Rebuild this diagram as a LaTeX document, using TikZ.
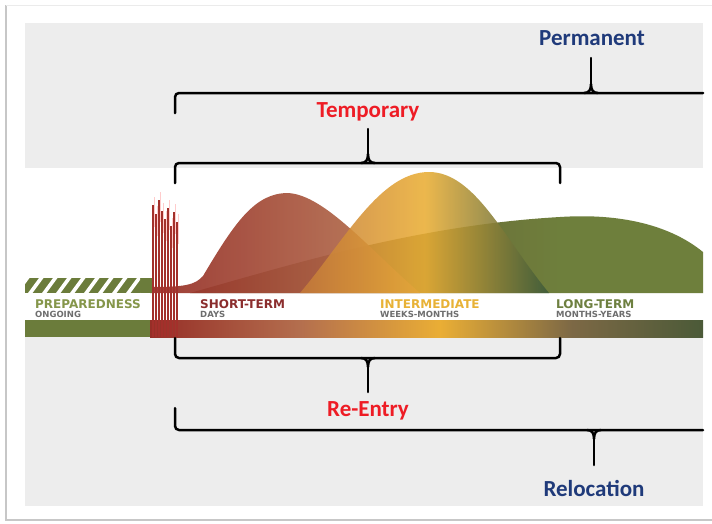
\documentclass[tikz,border=0pt]{standalone}
\usepackage{fontspec}
\setmainfont{Carlito}
\newfontfamily\lblfont{DejaVu Sans}
\definecolor{panel}{HTML}{EDEDED}
\definecolor{dgreen}{HTML}{6B7C3B}
\definecolor{lgreen}{HTML}{6E7F3C}
\definecolor{gdark}{HTML}{4B5A38}
\definecolor{hred}{HTML}{962E27}
\definecolor{htan}{HTML}{B97A55}
\definecolor{yel}{HTML}{EAAE35}
\definecolor{yorange}{HTML}{C47A3A}
\definecolor{ydark}{HTML}{3C5A3A}
\definecolor{navy}{HTML}{1F3A7A}
\definecolor{redtxt}{HTML}{EE1C25}
\definecolor{spikered}{HTML}{A3302B}
\definecolor{prepcol}{HTML}{85964A}
\definecolor{shortcol}{HTML}{8B2D2D}
\definecolor{intcol}{HTML}{E8B236}
\definecolor{longcol}{HTML}{6E8040}
\definecolor{subcol}{HTML}{6E6E6E}
\tikzset{
  brk/.style={line width=2.5pt, line cap=round, line join=round, rounded corners=4pt},
  tipline/.style={line width=2.5pt, line cap=round},
  biglbl/.style={font=\bfseries\fontsize{23}{25}\selectfont, inner sep=0pt},
  phase/.style={anchor=base west, inner sep=0pt, font=\lblfont\bfseries\fontsize{12}{13}\selectfont},
  sub/.style={anchor=base west, inner sep=0pt, text=subcol, font=\lblfont\bfseries\fontsize{8.5}{9}\selectfont},
}
\begin{document}
\begin{tikzpicture}[x=1pt,y=-1pt]
\useasboundingbox (0,0) rectangle (712,523);
\fill[white] (0,0) rectangle (712,523);
% card shadow
\draw[black!22, line width=2pt] (6,5) -- (6,520) -- (712,520);
\draw[black!8, line width=1pt] (6,5) -- (712,5);
% panel
\fill[panel] (25,23) rectangle (703,506);
\fill[white] (25,168) rectangle (703,337);

% long-term hump
\begin{scope}
\clip (190,293) .. controls (300,262) and (420,225) .. (560,217) .. controls (620,213) and (670,225) .. (703,252) -- (703,293) -- cycle;
\shade[left color=gdark!60!hred, right color=lgreen] (190,200) rectangle (560,300);
\fill[lgreen] (559.5,200) rectangle (704,300);
\end{scope}
% short-term hump
\begin{scope}
\clip (150,293) -- (150,287) .. controls (185,287) and (195,285) .. (203,276) .. controls (235,222) and (255,193) .. (288,193) .. controls (325,195) and (370,250) .. (420,293) -- cycle;
\shade[left color=hred, right color=htan, fill opacity=0.93] (150,180) rectangle (420,300);
\end{scope}
% intermediate hump
\begin{scope}
\clip (300,293) .. controls (345,240) and (380,172) .. (429,172) .. controls (475,172) and (505,240) .. (549,293) -- cycle;
\shade[left color=yorange, right color=ydark, middle color=yel, fill opacity=0.88] (300,160) rectangle (549,300);
\end{scope}

% preparedness hatched bar
\fill[dgreen] (25,278) rectangle (152,293);
\begin{scope}
\clip (25,278) rectangle (140,293);
\foreach \x in {14,28,...,140} {
  \fill[white] (\x,293) -- (\x+4.5,293) -- (\x+15.5,278) -- (\x+11,278) -- cycle;
}
\end{scope}

% bottom bar
\fill[dgreen] (25,320) rectangle (151,337);
\shade[left color=hred, right color=htan!85!hred] (150,320) rectangle (300.5,337);
\shade[left color=htan!85!hred, right color=yel] (300,320) rectangle (440.5,337);
\shade[left color=yel, right color=gdark, middle color=gdark!55!htan] (440,320) rectangle (703,337);

% spikes
\foreach \x/\t in {153/205, 156/214, 159/200, 162/211, 165/219, 168/208, 171/226, 174/212, 177/222} {
  \draw[spikered, line width=2pt] (\x,\t) -- (\x,337);
  \draw[red!20, line width=0.8pt] (\x+1.2,\t-8) -- (\x+1.2,\t+22);
}

% phase labels
\node[phase, text=prepcol] (prep) at (35,308) {PREPAREDNESS};
\node[sub] (prepsub) at (35,317.5) {ONGOING};
\node[phase, text=shortcol] (short) at (200,308) {SHORT-TERM};
\node[sub] (shortsub) at (200,317.5) {DAYS};
\node[phase, text=intcol] (inter) at (380,308) {INTERMEDIATE};
\node[sub] (intersub) at (380,317.5) {WEEKS-MONTHS};
\node[phase, text=longcol] (long) at (556,308) {LONG-TERM};
\node[sub] (longsub) at (556,317.5) {MONTHS-YEARS};

% bracket labels
\node[biglbl, text=navy] (perm) at (592,38) {Permanent};
\node[biglbl, text=redtxt] (temp) at (368,112) {Temporary};
\node[biglbl, text=redtxt] (reent) at (368,411) {Re-Entry};
\node[biglbl, text=navy] (reloc) at (594,488) {Relocation};

% Permanent bracket
\coordinate (pt) at (591,58);
\draw[brk] (175,113) -- (175,93) -- (703,93);
\draw[tipline] (pt) -- (591,85);
\draw[line width=2.5pt] (584,93) .. controls (589,93) and (591,90) .. (591,84) .. controls (591,90) and (593,93) .. (598,93);
% Temporary bracket
\coordinate (tt) at (368,129);
\draw[brk] (175,183) -- (175,163) -- (560,163) -- (560,183);
\draw[tipline] (tt) -- (368,155);
\draw[line width=2.5pt] (361,163) .. controls (366,163) and (368,160) .. (368,154) .. controls (368,160) and (370,163) .. (375,163);
% Re-Entry bracket
\coordinate (rt) at (368,392);
\draw[brk] (175,338) -- (175,358) -- (560,358) -- (560,338);
\draw[tipline] (rt) -- (368,366);
\draw[line width=2.5pt] (361,358) .. controls (366,358) and (368,361) .. (368,367) .. controls (368,361) and (370,358) .. (375,358);
% Relocation bracket
\coordinate (lt) at (594,465);
\draw[brk] (175,408) -- (175,430) -- (703,430);
\draw[tipline] (lt) -- (594,438);
\draw[line width=2.5pt] (587,430) .. controls (592,430) and (594,433) .. (594,439) .. controls (594,433) and (596,430) .. (601,430);
\end{tikzpicture}
\end{document}
